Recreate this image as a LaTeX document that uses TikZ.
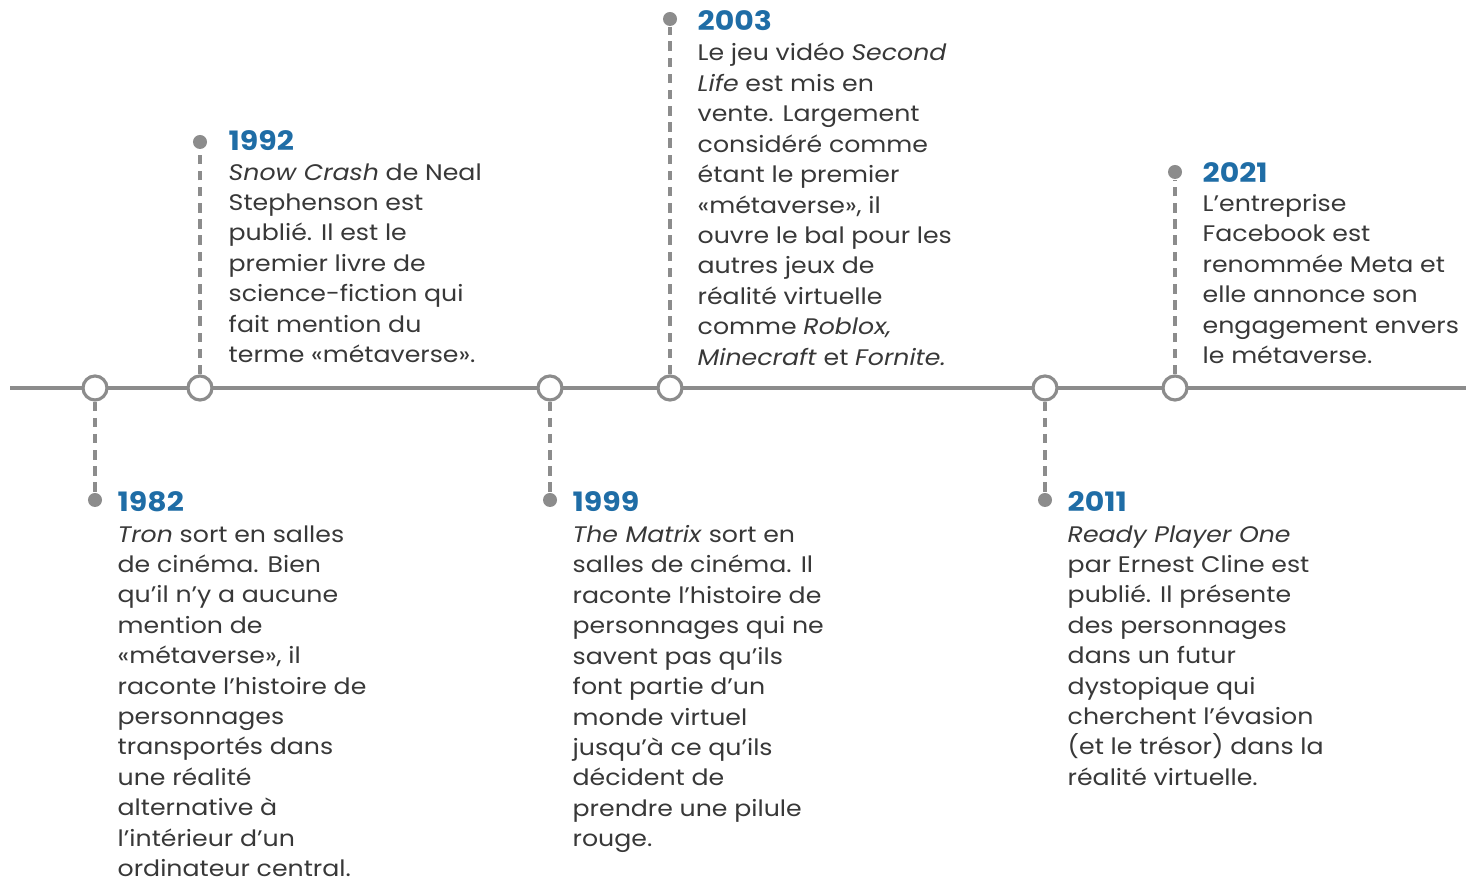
\documentclass[tikz,border=0pt]{standalone}
\usepackage{fontspec}
\setmainfont{Poppins}[FakeStretch=1.12]
\usepackage{xcolor}
\usepackage{tikz}

\definecolor{rulegray}{HTML}{8C8C8C}
\definecolor{yearblue}{HTML}{1F6DA6}
\definecolor{inkgray}{HTML}{383838}

\tikzset{
  event/.style={circle, draw=rulegray, line width=0.9pt, fill=white,
    minimum size=0.24cm, inner sep=0pt},
  pin/.style={circle, fill=rulegray, minimum size=0.14cm, inner sep=0pt},
  stem/.style={draw=rulegray, line width=0.9pt, dash pattern=on 2.7pt off 1.9pt},
  yearlbl/.style={anchor=base west, inner sep=0pt, text=yearblue,
    font=\fontsize{7.6}{9}\selectfont\bfseries},
  % first baseline sits on the given point (strut = .7 of 8.65pt)
  blurb/.style={anchor=north west, yshift=6.055pt, inner sep=0pt, align=left,
    text=inkgray, font=\fontsize{6.4}{8.65}\selectfont\strut},
}

\begin{document}
\begin{tikzpicture}[x=0.01cm, y=-0.01cm]
         \useasboundingbox (0,0) rectangle (1466,880);
         % Axis
         \coordinate (start) at (10,388);
         \coordinate (end)   at (1466,388);
         \draw [rulegray, line width=1pt] (start) -- (end);
         % Events on the axis
         \node [event] (e1982) at (95,388) {};
         \node [event] (e1992) at (200,388) {};
         \node [event] (e1999) at (550,388) {};
         \node [event] (e2003) at (670,388) {};
         \node [event] (e2011) at (1045,388) {};
         \node [event] (e2021) at (1175,388) {};
         % Pins
         \node [pin] (d1982) at (95,500) {};
         \node [pin] (d1992) at (200,142) {};
         \node [pin] (d1999) at (550,500) {};
         \node [pin] (d2003) at (670,19) {};
         \node [pin] (d2011) at (1045,500) {};
         \node [pin] (d2021) at (1175,172) {};
         \foreach \n in {1982, 1992, 1999, 2003, 2011, 2021} \draw [stem] (e\n) -- (d\n);
         % Years
         \node [yearlbl] (y1982) at (117,512) {1982};
         \node [yearlbl] (y1992) at (228,151) {1992};
         \node [yearlbl] (y1999) at (572,512) {1999};
         \node [yearlbl] (y2003) at (697,31) {2003};
         \node [yearlbl] (y2011) at (1067,512) {2011};
         \node [yearlbl] (y2021) at (1202,183) {2021};
         % Texts
         \node [blurb] (t1982) at (117,546) {\textit{Tron} sort en salles\\de cinéma. Bien\\qu'il n'y a aucune\\mention de\\«métaverse», il\\raconte l'histoire de\\personnages\\transportés dans\\une réalité\\alternative à\\l'intérieur d'un\\ordinateur central.};
         \node [blurb] (t1992) at (228,184) {\textit{Snow Crash} de Neal\\Stephenson est\\publié. Il est le\\premier livre de\\science-fiction qui\\fait mention du\\terme «métaverse».};
         \node [blurb] (t1999) at (572,546) {\textit{The Matrix} sort en\\salles de cinéma. Il\\raconte l'histoire de\\personnages qui ne\\savent pas qu'ils\\font partie d'un\\monde virtuel\\jusqu'à ce qu'ils\\décident de\\prendre une pilule\\rouge.};
         \node [blurb] (t2003) at (697,64) {Le jeu vidéo \textit{Second}\\\textit{Life} est mis en\\vente. Largement\\considéré comme\\étant le premier\\«métaverse», il\\ouvre le bal pour les\\autres jeux de\\réalité virtuelle\\comme \textit{Roblox,}\\\textit{Minecraft} et \textit{Fornite.}};
         \node [blurb] (t2011) at (1067,546) {\textit{Ready Player One}\\par Ernest Cline est\\publié. Il présente\\des personnages\\dans un futur\\dystopique qui\\cherchent l'évasion\\(et le trésor) dans la\\réalité virtuelle.};
         \node [blurb] (t2021) at (1202,215) {L'entreprise\\Facebook est\\renommée Meta et\\elle annonce son\\engagement envers\\le métaverse.};
\end{tikzpicture}
\end{document}
